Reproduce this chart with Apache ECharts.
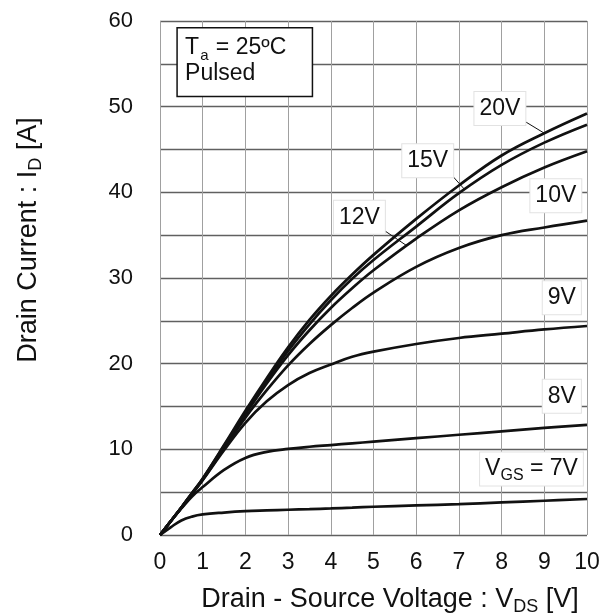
<!DOCTYPE html>
<html>
<head>
<meta charset="utf-8">
<script src="https://cdn.jsdelivr.net/npm/echarts@6/dist/echarts.min.js"></script>
<style>
html,body{margin:0;padding:0;background:#fff;}
#chart{width:607px;height:615px;}
</style>
</head>
<body>
<div id="chart"></div>
<script>
// V_DS sample points [V]
const vds = [0, 0.25, 0.5, 0.75, 1, 1.5, 2, 2.5, 3, 3.5, 4, 4.5, 5, 6, 7, 8, 9, 10];
// I_D [A] for each V_GS
const id7V  = [0, 0.9, 1.7, 2.15, 2.4, 2.62, 2.78, 2.87, 2.95, 3.02, 3.1, 3.2, 3.3, 3.45, 3.6, 3.8, 4.0, 4.2];
const id8V  = [0, 1.6, 3.1, 4.5, 5.6, 7.6, 9.0, 9.7, 10.05, 10.3, 10.5, 10.7, 10.9, 11.3, 11.7, 12.1, 12.5, 12.85];
const id9V  = [0, 1.6, 3.15, 4.8, 6.4, 9.9, 13.1, 15.6, 17.5, 18.9, 19.9, 20.8, 21.4, 22.3, 23.0, 23.5, 24.0, 24.4];
const id10V = [0, 1.6, 3.2, 4.8, 6.45, 10.1, 13.7, 16.9, 19.8, 22.3, 24.5, 26.5, 28.3, 31.3, 33.5, 35.0, 35.9, 36.7];
const id12V = [0, 1.6, 3.2, 4.85, 6.5, 10.3, 14.1, 17.7, 21.0, 23.9, 26.5, 28.8, 30.9, 34.6, 37.9, 40.6, 42.9, 44.8];
const id15V = [0, 1.6, 3.2, 4.9, 6.55, 10.4, 14.3, 18.0, 21.5, 24.6, 27.4, 29.9, 32.1, 36.0, 39.9, 43.2, 45.8, 47.9];
const id20V = [0, 1.6, 3.2, 4.9, 6.6, 10.5, 14.5, 18.3, 21.9, 25.1, 27.9, 30.4, 32.7, 36.9, 40.8, 44.3, 46.9, 49.2];

const seriesNames = ['7V', '8V', '9V', '10V', '12V', '15V', '20V'];
const seriesValues = [id7V, id8V, id9V, id10V, id12V, id15V, id20V];

const xTicks = [0, 1, 2, 3, 4, 5, 6, 7, 8, 9, 10];
const yTicks = [0, 10, 20, 30, 40, 50, 60];

// curve labels: text, box centre in data coords, optional leader end point on the curve
const labelTexts   = ['20V', '15V', '12V', '10V', '9V', '8V', '{n|V}{s|GS}{n| = 7V}'];
const labelAnchors = [[7.96, 49.8], [6.27, 43.7], [4.67, 37.1], [9.27, 39.6], [9.41, 27.7], [9.41, 16.2], [8.7, 7.7]];
const leaderEnds   = [[9, 46.9], [7.14, 40.3], [5.77, 33.8], null, null, null, null];

const FONT = '"Liberation Sans", Arial, sans-serif';

const chart = echarts.init(document.getElementById('chart'), null, {renderer: 'canvas'});

const option = {
  animation: false,
  backgroundColor: '#ffffff',
  grid: {left: 160, right: 20, top: 21, bottom: 80, containLabel: false},
  xAxis: {
    type: 'value', min: 0, max: 10, interval: 1,
    axisLine: {show: false}, axisTick: {show: false},
    axisLabel: {color: '#111', fontSize: 23, fontFamily: FONT, margin: 16,
      formatter: v => (xTicks.indexOf(v) >= 0 ? String(v) : '')},
    splitLine: {show: true, lineStyle: {color: '#a0a0a0', width: 1}}
  },
  yAxis: {
    type: 'value', min: 0, max: 60, interval: 5,
    axisLine: {show: false}, axisTick: {show: false},
    axisLabel: {color: '#111', fontSize: 22, fontFamily: FONT, margin: 27,
      formatter: v => (yTicks.indexOf(v) >= 0 ? String(v) : '')},
    splitLine: {show: true, lineStyle: {color: '#606060', width: 1.4}}
  },
  series: seriesNames.map((n, i) => ({
    name: n, type: 'line', smooth: 0.4, symbol: 'none',
    lineStyle: {color: '#111', width: 2.7},
    data: vds.map((x, j) => [x, seriesValues[i][j]]),
    z: 3
  }))
};
chart.setOption(option);

// annotations placed through the chart's own scales
const toPx = p => chart.convertToPixel({gridIndex: 0}, p);
const graphics = [];
const titleRich = {
  n: {fontSize: 27, fontFamily: FONT, fill: '#111'},
  s: {fontSize: 18, fontFamily: FONT, fill: '#111', verticalAlign: 'bottom', padding: [0, 0, -3, 0]}
};

// axis titles
graphics.push({
  type: 'text', x: 29, y: 240, rotation: Math.PI / 2, z: 10,
  style: {text: '{n|Drain Current : I}{s|D}{n| [A]}', align: 'center', verticalAlign: 'middle', rich: titleRich}
});
graphics.push({
  type: 'text', x: 390, y: 600, z: 10,
  style: {text: '{n|Drain - Source Voltage : V}{s|DS}{n| [V]}', align: 'center', verticalAlign: 'middle', rich: titleRich}
});

// condition box
const boxTL = toPx([0.4, 59.2]);
const boxBR = toPx([3.57, 51.2]);
graphics.push({
  type: 'rect', z: 10,
  shape: {x: boxTL[0], y: boxTL[1], width: boxBR[0] - boxTL[0], height: boxBR[1] - boxTL[1]},
  style: {fill: '#fff', stroke: '#111', lineWidth: 1.5}
});
graphics.push({
  type: 'text', z: 11, x: boxTL[0] + 8, y: boxTL[1] + 7,
  style: {
    text: '{n|T}{s|a}{n| = 25ºC}\n{n|Pulsed}', align: 'left', verticalAlign: 'top',
    rich: {
      n: {fontSize: 23, fontFamily: FONT, fill: '#111', lineHeight: 26},
      s: {fontSize: 15, fontFamily: FONT, fill: '#111', verticalAlign: 'bottom', lineHeight: 26, padding: [0, 1, -3, 1]}
    }
  }
});

labelTexts.forEach((t, i) => {
  const c = toPx(labelAnchors[i]);
  if (leaderEnds[i]) {
    const e = toPx(leaderEnds[i]);
    graphics.push({
      type: 'line', z: 9,
      shape: {x1: c[0] + 20, y1: c[1] + 10, x2: e[0], y2: e[1]},
      style: {stroke: '#111', lineWidth: 1}
    });
  }
  graphics.push({
    type: 'text', z: 10, x: c[0], y: c[1],
    style: {
      text: t.indexOf('{') >= 0 ? t : '{n|' + t + '}', align: 'center', verticalAlign: 'middle',
      backgroundColor: '#fff', borderColor: '#e2e2e2', borderWidth: 1, padding: [5, 5, 5, 5],
      rich: {
        n: {fontSize: 23, fontFamily: FONT, fill: '#111'},
        s: {fontSize: 16, fontFamily: FONT, fill: '#111', verticalAlign: 'bottom', padding: [0, 0, -3, 0]}
      }
    }
  });
});

chart.setOption({graphic: graphics});
</script>
</body>
</html>
